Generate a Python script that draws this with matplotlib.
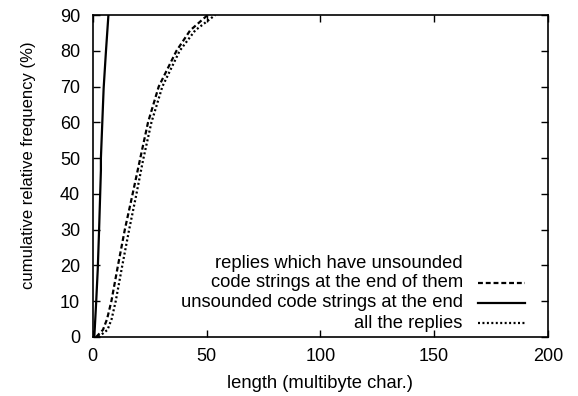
import matplotlib
matplotlib.use("Agg")
import matplotlib.pyplot as plt

plt.rcParams['font.family'] = ['Liberation Sans', 'DejaVu Sans']

# cumulative relative frequency (%) vs length
pct_dashed = [0, 2, 5, 10, 20, 30, 39, 49.4, 60, 70, 80, 85.7, 90]
len_dashed = [1.5, 4.5, 6.3, 8.2, 11.1, 14.1, 17.2, 20.7, 24.3, 29.0, 36.8, 42.8, 50.5]

pct_solid = [0, 9.5, 18.7, 29.9, 46.6, 50, 59.8, 69.5, 79.7, 90]
len_solid = [0.7, 1.5, 2.2, 2.8, 3.6, 3.6, 4.2, 4.8, 5.8, 6.9]

pct_dotted = [0, 2, 5, 10, 20, 30, 39, 49.4, 60, 70, 80, 85.7, 90]
len_dotted = [2.5, 6.5, 8.3, 10.1, 13.0, 16.0, 18.9, 22.1, 25.8, 30.6, 38.2, 45.0, 53.8]

labels = ["replies which have unsounded\ncode strings at the end of them",
          "unsounded code strings at the end",
          "all the replies"]

fig = plt.figure(figsize=(5.78, 3.96), dpi=100)
ax = fig.add_axes([0.1604, 0.149, 0.948 - 0.1604, 0.962 - 0.149])

dash_style = dict(color='black', lw=1.6, linestyle=(0, (2.2, 1.3)))
solid_style = dict(color='black', lw=1.6, linestyle='-')
dot_style = dict(color='black', lw=1.6, linestyle=(0, (0.9, 1.1)))

ax.plot(len_dashed, pct_dashed, **dash_style)
ax.plot(len_solid, pct_solid, **solid_style)
ax.plot(len_dotted, pct_dotted, **dot_style)

ax.set_xlim(0, 200)
ax.set_ylim(0, 90)
ax.set_xticks([0, 50, 100, 150, 200])
ax.set_yticks(range(0, 91, 10))
ax.tick_params(direction='in', length=5, width=1, top=True, right=True,
               labelsize=13)
ax.tick_params(axis='y', pad=9)
ax.tick_params(axis='x', pad=8)
for s in ax.spines.values():
    s.set_linewidth(1.2)

ax.set_xlabel("length (multibyte char.)", fontsize=13.2, labelpad=7)
ax.set_ylabel("cumulative relative frequency (%)", fontsize=12)
ax.yaxis.set_label_coords(-0.125, 0.534)

# gnuplot-like key in the lower right
key_text_x = 0.813
key_line = (0.846, 0.950)
key_rows = [0.168, 0.106, 0.043]
styles = [dash_style, solid_style, dot_style]
for lab, yk, st in zip(labels, key_rows, styles):
    lines = lab.split("\n")
    for i, ln in enumerate(reversed(lines)):
        ax.text(key_text_x, yk + i * 0.06, ln, transform=ax.transAxes,
                ha='right', va='center', fontsize=13.2)
    ax.plot(key_line, [yk, yk], transform=ax.transAxes, **st)

fig.savefig("out.png", dpi=100)
